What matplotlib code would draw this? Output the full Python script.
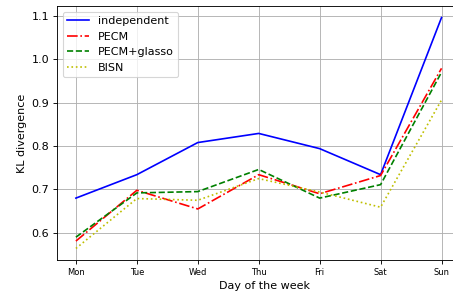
import matplotlib
matplotlib.use('Agg')
import matplotlib.pyplot as plt

# Werte
tage = ['Mon', 'Tue', 'Wed', 'Thu', 'Fri', 'Sat', 'Sun']
independent = [0.680, 0.734, 0.808, 0.829, 0.794, 0.734, 1.096]
pecm = [0.581, 0.698, 0.655, 0.734, 0.690, 0.732, 0.979]
pecm_glasso = [0.590, 0.692, 0.695, 0.746, 0.680, 0.711, 0.970]
bisn = [0.564, 0.679, 0.675, 0.725, 0.694, 0.659, 0.906]

dpi = 80
fig = plt.figure(figsize=(453 / dpi, 292 / dpi), dpi=dpi)
# rechte Achsenkante liegt ausserhalb des Bildes (wie im Original abgeschnitten)
ax = fig.add_axes([57 / 453, 32 / 292, 415 / 453, 254 / 292])

x = range(len(tage))
ax.plot(x, independent, 'b-', label='independent')
ax.plot(x, pecm, 'r-.', label='PECM')
ax.plot(x, pecm_glasso, 'g--', label='PECM+glasso')
ax.plot(x, bisn, 'y:', label='BISN')

ax.set_xlim(-0.31, 6.5)
ax.set_xticks(list(x))
ax.set_xticklabels(tage, fontsize=7.5)
ax.spines['right'].set_visible(False)
ax.grid()
ax.legend(loc='upper left')
ax.set_xlabel('Day of the week')
ax.set_ylabel('KL divergence')

fig.savefig('out.png', dpi=dpi)
